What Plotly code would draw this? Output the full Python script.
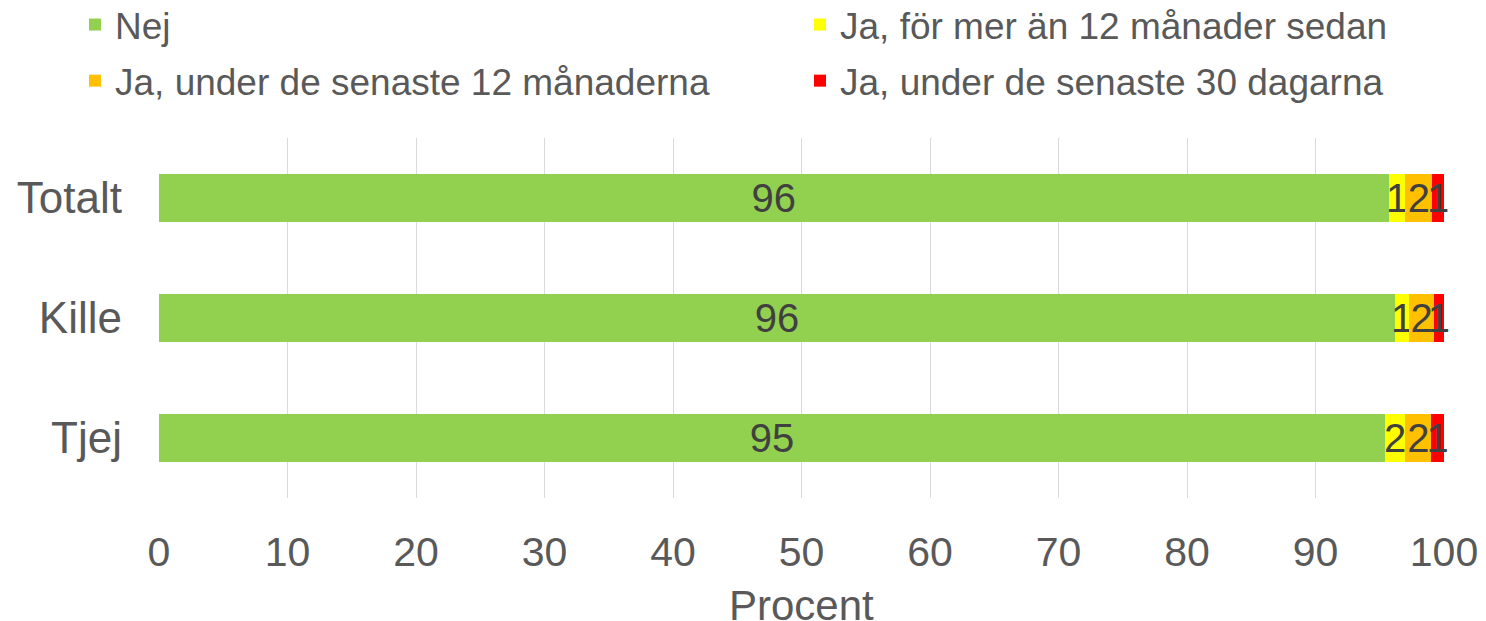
import plotly.graph_objects as go

categories = ["Totalt", "Kille", "Tjej"]
series_names = ["Nej", "Ja, för mer än 12 månader sedan",
                "Ja, under de senaste 12 månaderna", "Ja, under de senaste 30 dagarna"]
nej = [95.7, 96.2, 95.4]
mer_an_12 = [1.3, 1.1, 1.6]
senaste_12 = [2.1, 1.9, 2.0]
senaste_30 = [0.9, 0.8, 1.0]
labels_nej = ["96", "96", "95"]
labels_mer = ["1", "1", "2"]
labels_12 = ["2", "2", "2"]
labels_30 = ["1", "1", "1"]
axis_title = "Procent"
colors = ["#92d050", "#ffff00", "#ffc000", "#ff0000"]
legend_ids = ["legend", "legend2", "legend", "legend2"]

values = [nej, mer_an_12, senaste_12, senaste_30]
texts = [labels_nej, labels_mer, labels_12, labels_30]

fig = go.Figure()
for i, (name, vals, txt, col, lg) in enumerate(zip(series_names, values, texts, colors, legend_ids)):
    fig.add_trace(go.Bar(
        y=categories, x=vals, name=name, orientation="h",
        marker=dict(color=col, line=dict(width=0)),
        text=txt, textposition="inside", insidetextanchor="middle",
        constraintext="none", cliponaxis=False,
        textfont=dict(family="Liberation Sans, Arial", size=40, color="#404040"),
        hoverinfo="x+name", legend=lg, legendgroup="g%d" % i,
    ))

legend_common = dict(
    orientation="v", yanchor="middle", yref="container", xref="container",
    xanchor="left", font=dict(size=37, color="#595959"),
    itemwidth=30, tracegroupgap=5, bgcolor="rgba(0,0,0,0)",
)

fig.update_layout(
    barmode="stack",
    bargap=0.6,
    width=1486, height=621,
    margin=dict(l=159, r=42, t=138, b=123, autoexpand=False),
    paper_bgcolor="white", plot_bgcolor="white",
    font=dict(family="Liberation Sans, Arial", color="#595959", size=37),
    showlegend=True,
    legend=dict(x=75 / 1486, y=1 - 53 / 621, **legend_common),
    legend2=dict(x=800 / 1486, y=1 - 53 / 621, **legend_common),
    annotations=[dict(
        text=axis_title, x=0.5, xref="paper", y=-107 / 360, yref="paper",
        xanchor="center", yanchor="middle", showarrow=False,
        font=dict(size=42, color="#595959"),
    )],
)
fig.update_xaxes(
    range=[0, 100], dtick=10, showgrid=True, gridcolor="#d9d9d9", gridwidth=1.3,
    zeroline=False, showline=False, ticks="", ticklabelstandoff=26,
    automargin=False,
    tickfont=dict(size=41, color="#595959"),
)
fig.update_yaxes(
    autorange="reversed", showgrid=False, showline=False, ticks="",
    automargin=False,
    ticklabelstandoff=36, tickfont=dict(size=44, color="#595959"),
)

fig.write_html("out.html", post_script="document.body.style.margin='0';",
               config={"displayModeBar": False})
